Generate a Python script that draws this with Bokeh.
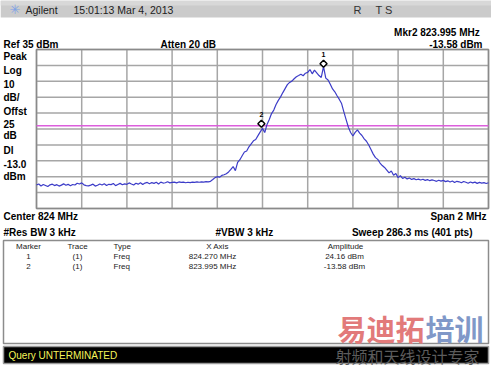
import numpy as np
from bokeh.plotting import figure
from bokeh.models import Label, BoxAnnotation, ColumnDataSource, Range1d
from bokeh.transform import dodge
from bokeh.embed import file_html
from bokeh.resources import INLINE

# ---------------- data ----------------
start_mhz, stop_mhz = 823.0, 825.0
ref_level, db_per_div, n_div = 35, 10, 10
display_line = -13.0

amplitude_dbm = [
    -50.2, -49.6, -50.8, -49.9, -50.5, -51.2, -50.1, -49.7, -50.6, -50.0,
    -50.9, -50.3, -49.5, -50.4, -49.8, -50.7, -49.9, -50.2, -49.1, -49.6,
    -48.9, -50.1, -50.6, -50.8, -50.3, -49.7, -50.9, -50.4, -49.6, -50.2,
    -49.4, -50.5, -49.8, -50.0, -49.3, -50.6, -49.9, -49.2, -50.1, -49.5,
    -49.8, -48.9, -49.6, -50.2, -49.1, -49.7, -48.8, -49.9, -49.0, -48.6,
    -49.4, -48.7, -49.2, -48.5, -49.6, -48.4, -49.0, -48.8, -48.2, -48.9,
    -48.6, -48.4, -48.9, -48.3,
    -48.6, -48.4, -48.8, -48.5, -48.7, -48.4, -48.6, -48.3, -48.5, -48.2,
    -48.4, -48.1, -48.3, -47.9,
    -46.8, -45.6, -45.0, -45.3, -44.2, -43.8, -43.1, -42.0, -40.4, -38.6,
    -41.2, -36.0, -34.3, -31.8, -29.5, -28.8, -26.2, -24.3, -22.4, -21.6,
    -19.2, -16.8,
    -14.6, -17.2, -12.1, -9.0, -5.3, -3.1, 0.4, 3.0, 5.2, 7.9,
    10.4, 12.9, 14.3, 15.1, 16.6, 17.9, 18.6, 19.4, 18.5, 20.1,
    20.6, 22.4, 19.7, 22.0, 20.3, 18.6, 17.4, 24.16, 17.0, 15.8,
    13.1, 10.2, 8.4, 5.9, 3.6, 1.0, -4.2, -9.1, -13.9, -17.2,
    -19.4, -17.1, -15.6, -17.6, -19.1, -21.2, -22.7, -25.1, -27.9, -30.8,
    -33.0, -34.1, -36.4, -38.0, -39.2, -40.9, -42.6, -41.4, -44.1, -43.0,
    -45.6, -44.4, -46.1,
    -45.3, -46.4, -45.8, -46.7, -46.2, -46.9, -46.5, -47.1, -46.6, -47.3,
    -46.8, -47.5, -47.0, -47.4, -47.9, -47.2, -47.8, -47.3, -48.1, -47.6,
    -48.3, -47.7, -48.6, -47.9, -48.2, -48.8, -48.0, -48.5, -49.1, -48.3,
    -48.9, -48.4, -49.2, -48.6, -49.0, -48.7, -49.3, -48.8,
]
freq_mhz = np.linspace(start_mhz, stop_mhz, len(amplitude_dbm))

marker_ids = ["1", "2"]
marker_freq = [824.270, 823.995]
marker_amp = [24.16, -13.58]
marker_trace = ["(1)", "(1)"]
marker_type = ["Freq", "Freq"]
marker_x_text = ["824.270 MHz", "823.995 MHz"]
marker_amp_text = ["24.16 dBm", "-13.58 dBm"]
table_headers = ["Marker", "Trace", "Type", "X Axis", "Amplitude"]

# ---------------- layout ----------------
W, H = 491, 369
PL, PT, PW, PH = 36, 49, 452, 159      # graticule box on the canvas
FONT = "Liberation Sans"

bottom_level = ref_level - n_div * db_per_div
px_per_mhz = PW / (stop_mhz - start_mhz)
px_per_db = PH / (ref_level - bottom_level)

p = figure(width=W, height=H, output_backend="svg", toolbar_location=None,
           x_range=(0, W), y_range=(0, H), min_border=0)
p.title.visible = False
p.xaxis.visible = False
p.yaxis.visible = False
p.grid.visible = False
p.outline_line_color = None
p.background_fill_color = "white"
p.border_fill_color = "white"

p.extra_x_ranges = {"freq": Range1d(start_mhz - PL / px_per_mhz,
                                    stop_mhz + (W - PL - PW) / px_per_mhz)}
p.extra_y_ranges = {"amp": Range1d(bottom_level - (H - PT - PH) / px_per_db,
                                   ref_level + PT / px_per_db)}
R = dict(x_range_name="freq", y_range_name="amp")

# graticule
x_ticks = np.linspace(start_mhz, stop_mhz, n_div + 1)
y_ticks = np.linspace(bottom_level, ref_level, n_div + 1)
p.segment(x0=x_ticks, x1=x_ticks, y0=bottom_level, y1=ref_level,
          line_color="#a6a6a6", line_width=1.5, **R)
p.segment(x0=start_mhz, x1=stop_mhz, y0=y_ticks, y1=y_ticks,
          line_color="#a6a6a6", line_width=1.5, **R)
p.quad(left=start_mhz, right=stop_mhz, bottom=bottom_level, top=ref_level,
       fill_color=None, line_color="#8a8a8a", line_width=1.5, **R)

# display line
p.segment(x0=start_mhz, x1=stop_mhz, y0=display_line, y1=display_line,
          line_color="#dc5fdc", line_width=1.5, **R)

# trace
p.line(freq_mhz, amplitude_dbm, line_color="#3c3cc8", line_width=1.2, **R)

msrc = ColumnDataSource(dict(freq=marker_freq, amp=marker_amp, id=marker_ids))
p.scatter(x="freq", y=dodge("amp", 1.9), source=msrc, marker="square", size=5,
          angle=np.pi / 4, fill_color="white", line_color="black", line_width=1.5, **R)
p.text(x="freq", y="amp", text="id", source=msrc, y_offset=-12, text_font_size="7px",
       text_align="center", text_baseline="middle", text_font_style="bold",
       text_color="black", **R)


def box(l, r, t, b, fill, line=None, lw=1):
    p.add_layout(BoxAnnotation(left=l, right=r, top=t, bottom=b,
                               left_units="canvas", right_units="canvas",
                               top_units="canvas", bottom_units="canvas",
                               fill_color=fill, fill_alpha=1.0,
                               line_color=line if line else "white", line_width=lw,
                               line_alpha=1.0 if line else 0.0))


def lab(text, x, y, size=10, bold=True, align="left", color="black", font=FONT):
    p.add_layout(Label(x=x, y=y, x_units="canvas", y_units="canvas", text=text,
                       text_font=font, text_font_size=f"{size}px",
                       text_font_style="bold" if bold else "normal",
                       text_align=align, text_baseline="middle", text_color=color))


# header bar
box(0, W, 0, 17, "#cbcbcb")
box(0, W, 0, 5, "#d8d8d8")
lab("✳", 9, 9, size=13, bold=False, color="#7ea2e6", font="DejaVu Sans")
lab("Agilent", 25, 9, size=10.5, bold=False, color="#222222")
lab("15:01:13  Mar 4, 2013", 73, 9, size=10.5, bold=False, color="#222222")
lab("R", 353, 9, size=11, bold=False, color="#333333")
lab("T S", 375, 9, size=11, bold=False, color="#333333")

# top labels
lab("Mkr2  823.995 MHz", 482, 32, align="right")
lab("-13.58 dBm", 482, 44, align="right")
lab("Ref 35 dBm", 3, 44)
lab("Atten 20 dB", 160, 44)

# left labels
for t, y in [("Peak", 56), ("Log", 70), ("10", 83), ("dB/", 97), ("Offst", 111),
             ("25", 123), ("dB", 135), ("Dl", 150), ("-13.0", 163), ("dBm", 176)]:
    lab(t, 3, y)

# bottom labels
lab("Center 824 MHz", 3, 216)
lab("Span 2 MHz", 486, 216, align="right")
lab("#Res BW 3 kHz", 3, 232)
lab("#VBW 3 kHz", 215, 232)
lab("Sweep 286.3 ms (401 pts)", 472, 232, align="right")

# marker table
box(3, 488, 240, 343, "white", line="#8c8c8c", lw=1.5)
hx = [(28, "center"), (77, "center"), (113, "left"), (217, "center"), (345, "center")]
for (x, a), t in zip(hx, table_headers):
    lab(t, x, 246, size=8, bold=False, align=a, color="#222222")
xs = [(28, "center"), (77, "center"), (113, "left"), (212, "center"), (344, "center")]
for i in range(len(marker_ids)):
    y = 256 + 10 * i
    cols = [marker_ids[i], marker_trace[i], marker_type[i], marker_x_text[i], marker_amp_text[i]]
    for (x, a), t in zip(xs, cols):
        lab(t, x, y, size=8, bold=False, align=a, color="#222222")

# watermark
lab("易迪拓", 337, 327, size=29, bold=True, color="#e27a7a", font="Noto Sans CJK SC")
lab("培训", 425, 327, size=29, bold=True, color="#8098c8", font="Noto Sans CJK SC")

# status bar
box(3, 488, 346, 363, "black", line="#9a9a9a", lw=1.5)
lab("Query UNTERMINATED", 8, 355, size=10, bold=False, color="#f4f45a")
lab("射频和天线设计专家", 335, 355, size=16, bold=False, color="#5c5c5c", font="Noto Sans CJK SC")

open("out.html", "w").write(file_html(p, INLINE))
